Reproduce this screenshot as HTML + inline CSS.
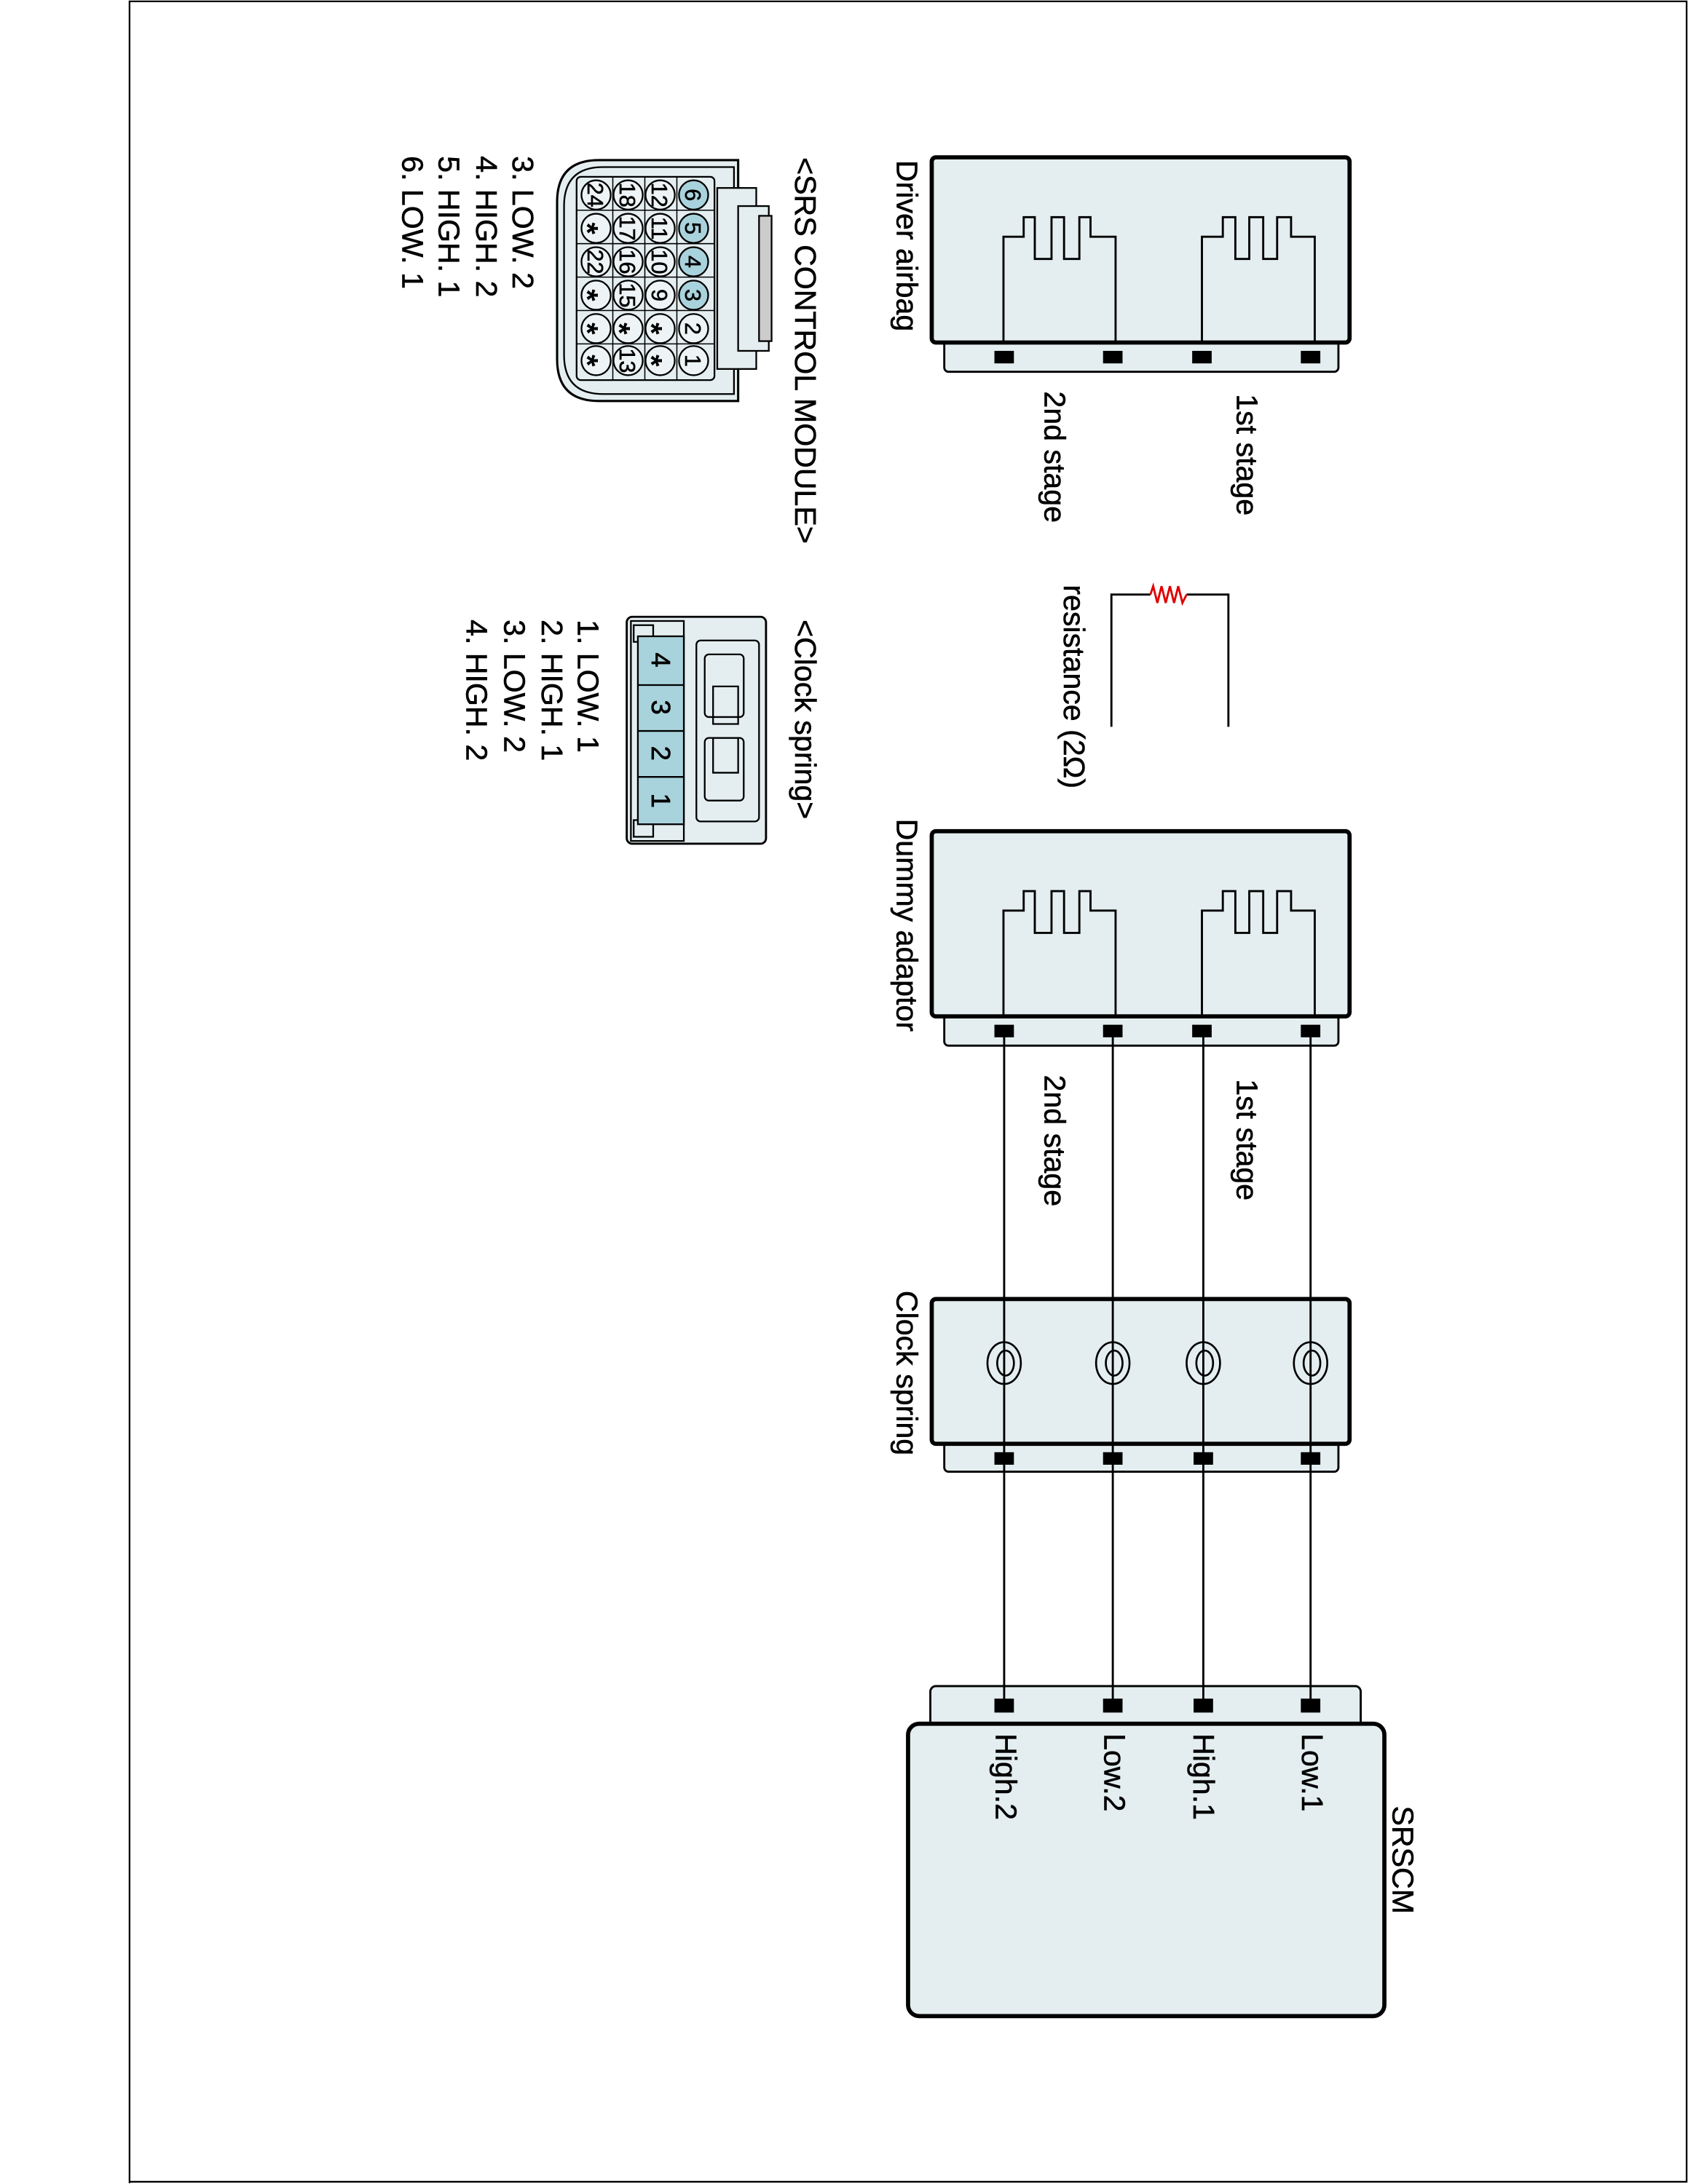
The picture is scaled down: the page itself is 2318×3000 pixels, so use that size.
<!DOCTYPE html>
<html><head><meta charset="utf-8"><style>html,body{margin:0;padding:0;background:#fff}svg{display:block}text{font-family:"Liberation Sans",Arial,sans-serif;fill:#000}</style></head>
<body>
<svg width="2318" height="3000" viewBox="0 0 1212 1568.6" xmlns="http://www.w3.org/2000/svg">
<rect x="0" y="0" width="1212" height="1568.6" fill="#fff"/>
<path d="M93,1568 V1 H1211 V1567 H93" fill="none" stroke="#000" stroke-width="1.2"/>

<g stroke="#000" fill="#e4eef0">
<rect x="678" y="240" width="283" height="27" rx="3" stroke-width="1.5"/>
<rect x="669" y="113" width="300" height="133" rx="3" stroke-width="3"/>
<rect x="678" y="724" width="283" height="27" rx="3" stroke-width="1.5"/>
<rect x="669" y="597" width="300" height="133" rx="3" stroke-width="3"/>
<rect x="678" y="1030" width="283" height="27" rx="3" stroke-width="1.5"/>
<rect x="669" y="933" width="300" height="104" rx="3" stroke-width="3"/>
<rect x="668" y="1211" width="309" height="34" rx="4" stroke-width="1.5"/>
<rect x="652" y="1238" width="342" height="210" rx="8" stroke-width="3"/>
</g>

<g fill="none" stroke="#000" stroke-width="1.5">
<path d="M720.5,246 V170 H735 V156 H743 V186 H755 V156 H764 V186 H775 V156 H783 V170 H801 V246"/>
<path d="M863,246 V170 H878 V156 H887 V186 H897 V156 H907 V186 H917 V156 H927 V170 H944 V246"/>
<path d="M720.5,730 V654 H735 V640 H743 V670 H755 V640 H764 V670 H775 V640 H783 V654 H801 V730"/>
<path d="M863,730 V654 H878 V640 H887 V670 H897 V640 H907 V670 H917 V640 H927 V654 H944 V730"/>
<path d="M721,740 V1224 M799,740 V1224 M864,740 V1224 M941,740 V1224" />
<path d="M798,522 V427 H826 M852,427 H882 V522"/>
</g>
<path d="M826,427 L828,421 L831,433 L834,421 L837,433 L840,421 L843,433 L846,421 L849,433 L852,427" fill="none" stroke="#e00000" stroke-width="1.5"/>

<g fill="none" stroke="#000" stroke-width="1.4">
<g transform="translate(721,979)"><ellipse cx="0" cy="0" rx="12" ry="15"/><ellipse cx="1" cy="0" rx="6" ry="9"/></g>
<g transform="translate(799,979)"><ellipse cx="0" cy="0" rx="12" ry="15"/><ellipse cx="1" cy="0" rx="6" ry="9"/></g>
<g transform="translate(864,979)"><ellipse cx="0" cy="0" rx="12" ry="15"/><ellipse cx="1" cy="0" rx="6" ry="9"/></g>
<g transform="translate(941,979)"><ellipse cx="0" cy="0" rx="12" ry="15"/><ellipse cx="1" cy="0" rx="6" ry="9"/></g>
</g>

<g fill="#000">
<rect x="714" y="252" width="14" height="9"/><rect x="792" y="252" width="14" height="9"/><rect x="856" y="252" width="14" height="9"/><rect x="934" y="252" width="14" height="9"/>
<rect x="714" y="736" width="14" height="9"/><rect x="792" y="736" width="14" height="9"/><rect x="856" y="736" width="14" height="9"/><rect x="934" y="736" width="14" height="9"/>
<rect x="714" y="1043" width="14" height="9"/><rect x="792" y="1043" width="14" height="9"/><rect x="857" y="1043" width="14" height="9"/><rect x="934" y="1043" width="14" height="9"/>
<rect x="714" y="1220" width="14" height="10"/><rect x="792" y="1220" width="14" height="10"/><rect x="857" y="1220" width="14" height="10"/><rect x="934" y="1220" width="14" height="10"/>
</g>

<g font-size="21.5" stroke="#000" stroke-width="0.3">
<text transform="translate(644,115) rotate(90)">Driver airbag</text>
<text transform="translate(750,281) rotate(90)">2nd stage</text>
<text transform="translate(888,283) rotate(90)">1st stage</text>
<text transform="translate(764,420) rotate(90)">resistance (2Ω)</text>
<text transform="translate(644,588) rotate(90)">Dummy adaptor</text>
<text transform="translate(750,772) rotate(90)">2nd stage</text>
<text transform="translate(888,775) rotate(90)">1st stage</text>
<text transform="translate(644,927) rotate(90)">Clock spring</text>
<text transform="translate(935,1245) rotate(90)">Low.1</text>
<text transform="translate(857,1245) rotate(90)">High.1</text>
<text transform="translate(793,1245) rotate(90)">Low.2</text>
<text transform="translate(715,1245) rotate(90)">High.2</text>
<text transform="translate(1000,1297) rotate(90)">SRSCM</text>
<text transform="translate(571,113) rotate(90)">&lt;SRS CONTROL MODULE&gt;</text>
<text transform="translate(368,112) rotate(90)">3. LOW. 2</text>
<text transform="translate(342,112) rotate(90)">4. HIGH. 2</text>
<text transform="translate(315,112) rotate(90)">5. HIGH. 1</text>
<text transform="translate(289,112) rotate(90)">6. LOW. 1</text>
<text transform="translate(571,445) rotate(90)">&lt;Clock spring&gt;</text>
<text transform="translate(415,445) rotate(90)">1. LOW. 1</text>
<text transform="translate(389,445) rotate(90)">2. HIGH. 1</text>
<text transform="translate(362,445) rotate(90)">3. LOW. 2</text>
<text transform="translate(335,445) rotate(90)">4. HIGH. 2</text>
</g>

<g stroke="#000" stroke-width="1.2" fill="#e4eef0">
<path d="M530,115 H430 Q400,115 400,145 V258 Q400,288 430,288 H530 Z" stroke-width="1.6"/>
<path d="M527,120 H433 Q405,120 405,148 V255 Q405,283 433,283 H527 Z" fill="none"/>
<rect x="515" y="135" width="28" height="130"/>
<rect x="530" y="148" width="22" height="104"/>
<rect x="545" y="155" width="9" height="90" fill="#ccc"/>
<rect x="414" y="127" width="99" height="146" rx="3"/>
<path d="M414,151 H513 M414,175 H513 M414,199 H513 M414,223 H513 M414,247 H513 M440,127 V273 M463,127 V273 M486,127 V273" fill="none" stroke-width="0.8"/>
</g>
<g stroke="#000" stroke-width="1.2">
<g fill="#a9d3dc"><circle cx="498" cy="140" r="10.5"/><circle cx="498" cy="164" r="10.5"/><circle cx="498" cy="188" r="10.5"/><circle cx="498" cy="212" r="10.5"/></g>
<g fill="#eef4f5">
<circle cx="498" cy="236" r="10.5"/><circle cx="498" cy="259" r="10.5"/>
<circle cx="474" cy="140" r="10.5"/><circle cx="474" cy="164" r="10.5"/><circle cx="474" cy="188" r="10.5"/><circle cx="474" cy="212" r="10.5"/><circle cx="474" cy="236" r="10.5"/><circle cx="474" cy="259" r="10.5"/>
<circle cx="451" cy="140" r="10.5"/><circle cx="451" cy="164" r="10.5"/><circle cx="451" cy="188" r="10.5"/><circle cx="451" cy="212" r="10.5"/><circle cx="451" cy="236" r="10.5"/><circle cx="451" cy="259" r="10.5"/>
<circle cx="428" cy="140" r="10.5"/><circle cx="428" cy="164" r="10.5"/><circle cx="428" cy="188" r="10.5"/><circle cx="428" cy="212" r="10.5"/><circle cx="428" cy="236" r="10.5"/><circle cx="428" cy="259" r="10.5"/>
</g>
</g>
<g font-size="16" text-anchor="middle" stroke="#000" stroke-width="0.3">
<text transform="translate(492,140) rotate(90)">6</text><text transform="translate(492,164) rotate(90)">5</text><text transform="translate(492,188) rotate(90)">4</text><text transform="translate(492,212) rotate(90)">3</text><text transform="translate(492,236) rotate(90)">2</text><text transform="translate(492,259) rotate(90)">1</text>
<text transform="translate(468,140) rotate(90)">12</text><text transform="translate(468,164) rotate(90)">11</text><text transform="translate(468,188) rotate(90)">10</text><text transform="translate(468,212) rotate(90)">9</text>
<text transform="translate(445,140) rotate(90)">18</text><text transform="translate(445,164) rotate(90)">17</text><text transform="translate(445,188) rotate(90)">16</text><text transform="translate(445,212) rotate(90)">15</text><text transform="translate(445,259) rotate(90)">13</text>
<text transform="translate(422,140) rotate(90)">24</text><text transform="translate(422,188) rotate(90)">22</text>
</g>
<g font-size="22" text-anchor="middle" font-weight="bold">
<text transform="translate(468,236) rotate(90)" dy="8">*</text><text transform="translate(468,259) rotate(90)" dy="8">*</text>
<text transform="translate(445,236) rotate(90)" dy="8">*</text>
<text transform="translate(422,164) rotate(90)" dy="8">*</text><text transform="translate(422,212) rotate(90)" dy="8">*</text><text transform="translate(422,236) rotate(90)" dy="8">*</text><text transform="translate(422,259) rotate(90)" dy="8">*</text>
</g>

<g stroke="#000" stroke-width="1.2" fill="#e4eef0">
<rect x="450" y="443" width="100" height="163" rx="4" stroke-width="1.5"/>
<rect x="453" y="446" width="38" height="158" fill="none"/>
<rect x="455" y="449" width="14" height="12"/><rect x="455" y="589" width="14" height="12"/>
<rect x="458" y="457" width="33" height="135" fill="#a9d3dc"/>
<path d="M458,492 H491 M458,525 H491 M458,558 H491" fill="none"/>
<rect x="500" y="460" width="45" height="130" rx="3" fill="none"/>
<rect x="506" y="470" width="28" height="45" rx="3" fill="none"/>
<rect x="506" y="530" width="28" height="45" rx="3" fill="none"/>
<path d="M512,493 H530 V520 H512 Z M512,530 H530 V555 H512 Z" fill="none"/>
</g>
<g font-size="19" text-anchor="middle" stroke="#000" stroke-width="0.4">
<text transform="translate(468,474) rotate(90)">4</text>
<text transform="translate(468,508) rotate(90)">3</text>
<text transform="translate(468,541) rotate(90)">2</text>
<text transform="translate(468,575) rotate(90)">1</text>
</g>
</svg>
</body></html>
